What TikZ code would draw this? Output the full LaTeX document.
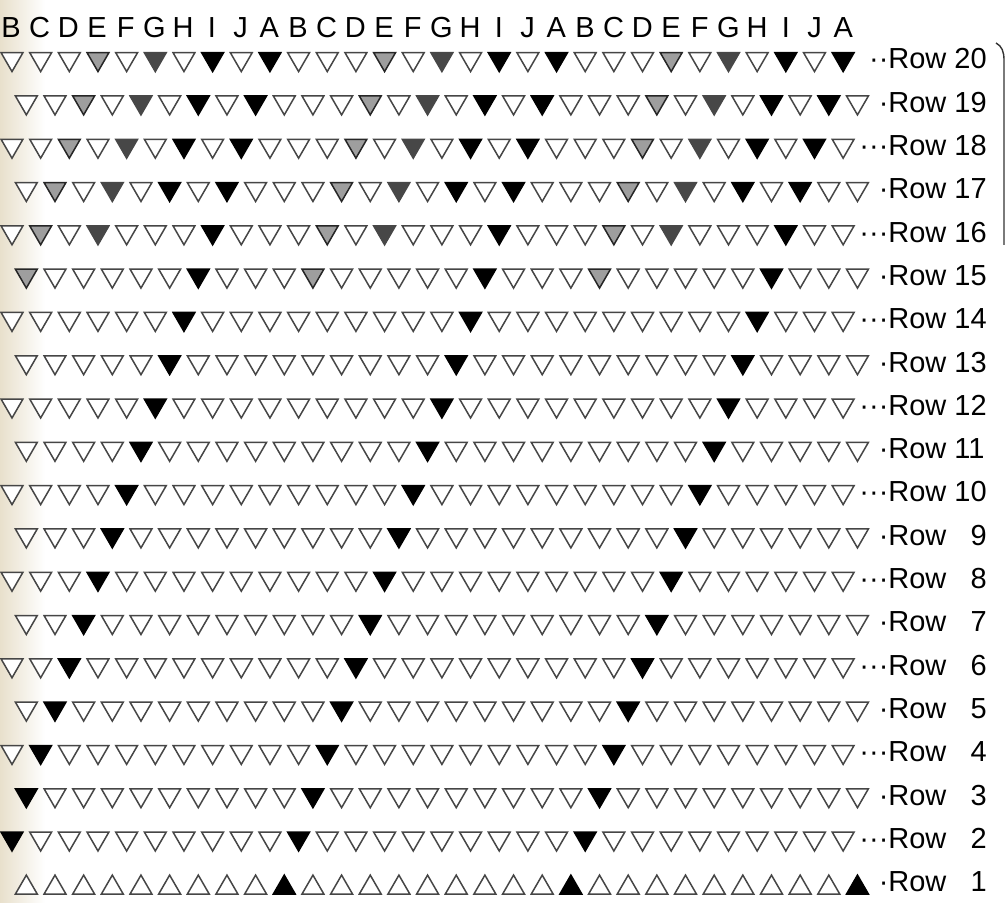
\documentclass[tikz,border=0pt]{standalone}
\usepackage{fontspec}
\setmainfont{Liberation Sans}
\usetikzlibrary{shapes.geometric}
\definecolor{paper}{RGB}{232,224,204}
\definecolor{ink}{RGB}{70,70,70}

\begin{document}
\begin{tikzpicture}[x=0.5pt, y=-0.5pt,
    bead/.style={regular polygon, regular polygon sides=3, minimum size=12.6pt, inner sep=0pt, draw=ink, line width=0.75pt, fill=white},
    hollowbead/.style={},
    blk/.style={fill=black, draw=black},
    dkgray/.style={fill=black!72, draw=black!72},
    ltgray/.style={fill=black!38, draw=black!85},
    colhead/.style={font=\fontsize{14.5}{16}\selectfont, anchor=base, inner sep=0pt},
    rowlbl/.style={font=\fontsize{14.5}{16}\selectfont, anchor=base west, inner sep=0pt}]

    % page
    \useasboundingbox (0,0) rectangle (1007,903);
    \fill[white] (0,0) rectangle (1007,903);
    \fill[left color=paper, right color=white] (0,0) rectangle (45,903);

    % column letters
    \foreach \l [count=\c] in {B,C,D,E,F,G,H,I,J,A,B,C,D,E,F,G,H,I,J,A,B,C,D,E,F,G,H,I,J,A}
        \node[colhead] (col\c) at ({11+(\c-1)*28.7}, 38) {\l};

    % rows of beads, odd rows set half a bead to the right
    \foreach \r in {20,19,...,1} {
        \pgfmathsetmacro\yy{62+(20-\r)*43.3}
        \pgfmathtruncatemacro\odd{mod(\r,2)}
        \foreach \c in {1,...,30} {
            \pgfmathtruncatemacro\hx{2*(\c-1)+\odd}
            \pgfmathtruncatemacro\m{mod(\hx+20-\r,20)}
            \def\kind{hollowbead}
            \ifnum\m=6 \ifnum\r>14 \def\kind{ltgray}\fi\fi
            \ifnum\m=10 \ifnum\r>15 \def\kind{dkgray}\fi\fi
            \ifnum\m=14 \ifnum\r>16 \def\kind{blk}\fi\fi
            \ifnum\m=18 \def\kind{blk}\fi
            \ifnum\r=1
                \node[bead, \kind] (b\r-\c) at ({12+\hx*14.33}, \yy+3) {};
            \else
                \node[bead, \kind, shape border rotate=180] (b\r-\c) at ({12+\hx*14.33}, \yy-3) {};
            \fi
        }
        % leader dots and row number
        \ifnum\r=20 \def\ldr{··}\else\ifodd\r \def\ldr{·}\else\def\ldr{···}\fi\fi
        \node[rowlbl] (row\r) at (888, \yy+7) {\llap{\ldr}Row \ifnum\r<10 \hphantom{0}\fi\r};
    }

    % bracket at the right edge
    \draw[line width=0.7pt, black!80] (996,43) .. controls (1002,46) and (1004,52) .. (1004,60) -- (1004,245);
\end{tikzpicture}
\end{document}
